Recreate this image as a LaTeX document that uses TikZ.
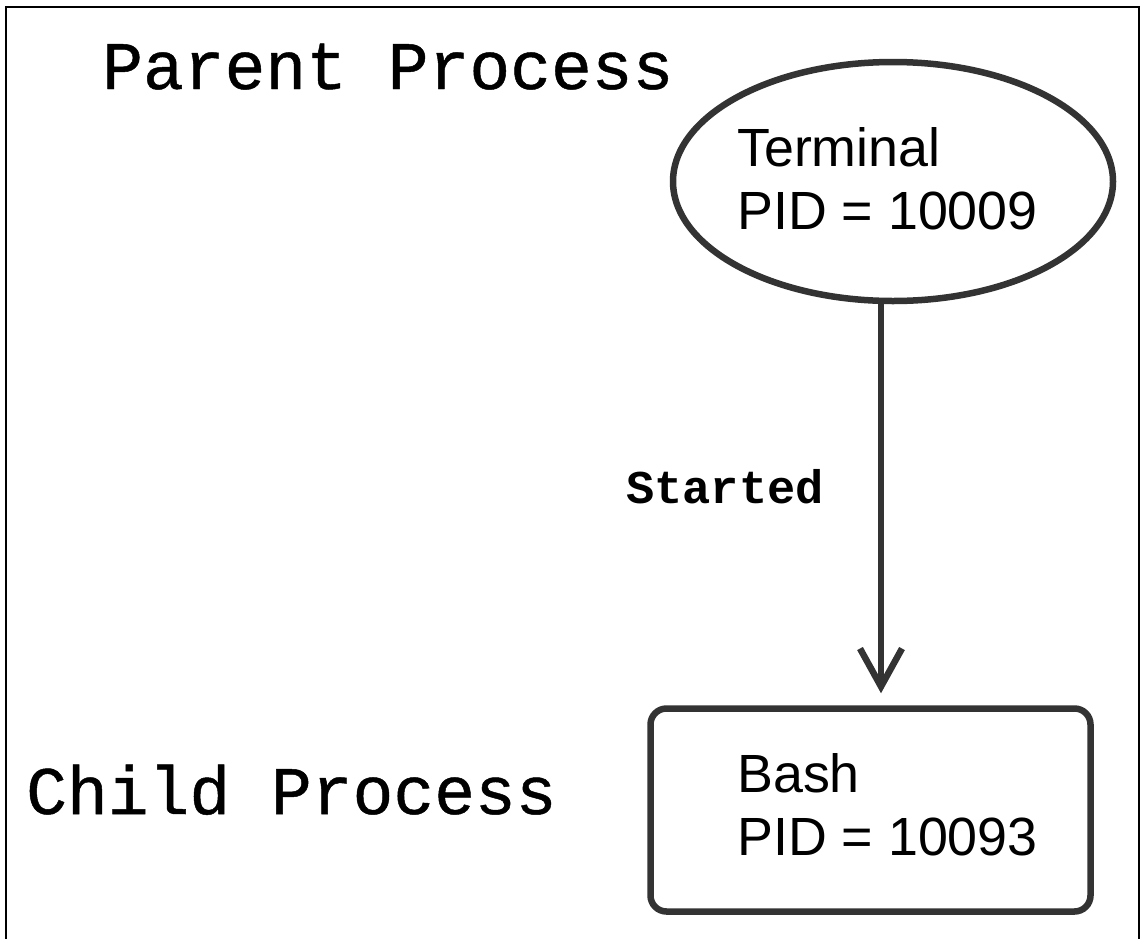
\documentclass[tikz,border=0pt]{standalone}
\usepackage{fontspec}
\setmainfont{Liberation Sans}
\newfontfamily\monof[FakeBold=0.7]{Liberation Mono}
\newfontfamily\monobf{Liberation Mono Bold}
\usetikzlibrary{arrows.meta,shapes.geometric}
\definecolor{ink}{HTML}{333333}
\tikzset{
  shapeline/.style={draw=ink, line width=6.5pt},
  boxtext/.style={inner sep=0pt, anchor=base west, align=left, font=\fontsize{53.8}{63}\selectfont},
  bigmono/.style={inner sep=0pt, anchor=base west, font=\monof\fontsize{68}{68}\selectfont},
  conn/.style={draw=ink, line width=6.5pt, -{Straight Barb[length=38pt,width=42pt]}}
}
\begin{document}
\begin{tikzpicture}[x=1pt,y=-1pt]
\useasboundingbox (0,0) rectangle (1141,938);
\draw[line width=2.2pt] (6,940) -- (6,7) -- (1139,7) -- (1139,940);
\node[bigmono] (parent) at (102,89) {Parent Process};
\node[bigmono] (child) at (26,814) {Child Process};
\node[shapeline, shape=ellipse, minimum width=440pt, minimum height=239pt, inner sep=0pt] (term) at (893,181.5) {};
\node[boxtext] (termtxt) at (737,229) {Terminal\\PID = 10009};
\node[shapeline, rounded corners=16pt, minimum width=440pt, minimum height=203pt, inner sep=0pt] (bash) at (870.5,810) {};
\node[boxtext] (bashtxt) at (737,855) {Bash\\PID = 10093};
\coordinate (ax) at (881,0);
\draw[conn, shorten >=12pt] (term.south -| ax) -- (bash.north -| ax);
\node[inner sep=0pt, anchor=base west, font=\monobf\fontsize{47}{47}\selectfont] (started) at (626,503) {Started};
\end{tikzpicture}
\end{document}
